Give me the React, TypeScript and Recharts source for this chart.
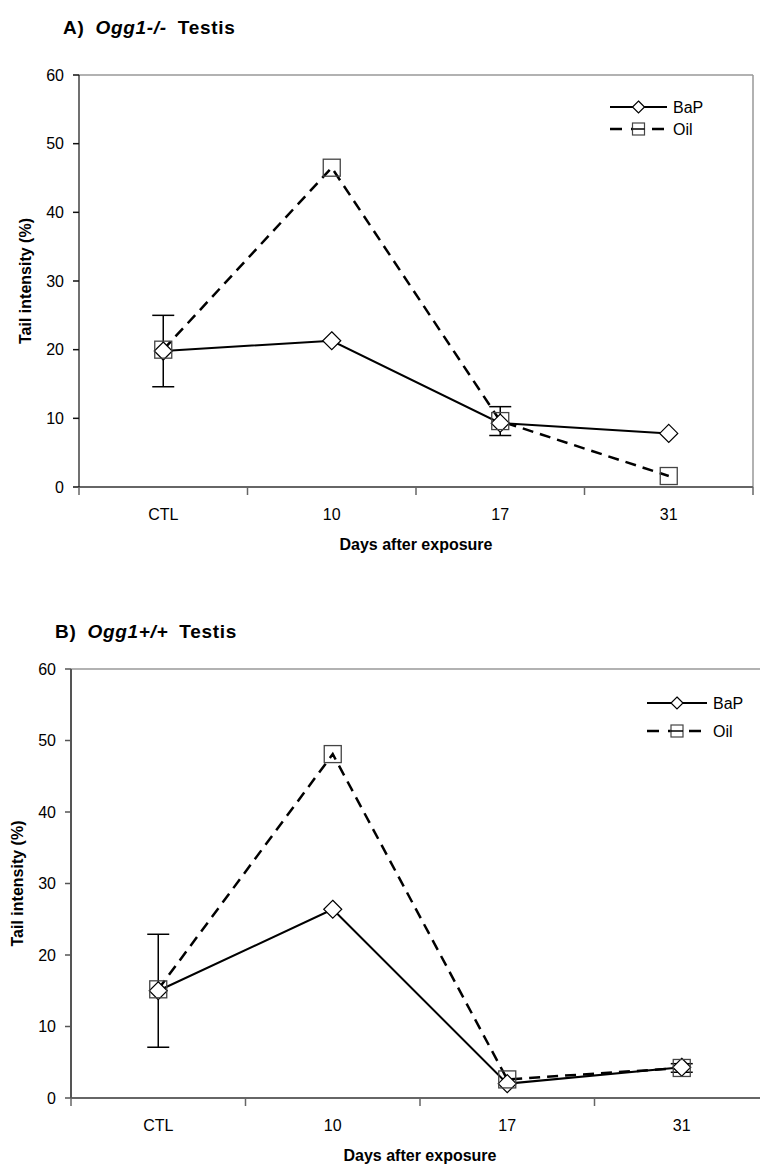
import React from 'react';
import { LineChart, Line, XAxis, YAxis, ErrorBar, ReferenceLine, Legend } from 'recharts';

// Tail intensity (%) by day after exposure
const days = ['CTL', '10', '17', '31'];
const yTicks = [0, 10, 20, 30, 40, 50, 60];

// A) Ogg1-/-
const bapA = [19.8, 21.3, 9.3, 7.8];
const oilA = [20.0, 46.5, 9.6, 1.6];
const bapErrA = [5.2, null, null, null];
const oilErrA = [null, null, 2.1, null];

// B) Ogg1+/+
const bapB = [15.0, 26.4, 2.0, 4.3];
const oilB = [15.2, 48.1, 2.6, 4.2];
const bapErrB = [7.9, null, null, null];
const oilErrB = [null, null, null, 0.6];

const FONT = '"Liberation Sans", Arial, Helvetica, sans-serif';
const xTicks = days.flatMap((_, i) => [i - 0.5, i]).concat(days.length - 0.5);

const buildData = (bap: number[], oil: number[], bapErr: (number | null)[], oilErr: (number | null)[]) =>
  days.map((d, i) => ({ x: i, day: d, bap: bap[i], oil: oil[i], bapErr: bapErr[i], oilErr: oilErr[i] }));

const Diamond = ({ cx, cy, r = 9 }: any) => (
  <path
    d={`M${cx},${cy - r} L${cx + r},${cy} L${cx},${cy + r} L${cx - r},${cy} Z`}
    fill="#fff"
    stroke="#000"
    strokeWidth={1.2}
  />
);

const Square = ({ cx, cy, r = 8.5 }: any) => (
  <rect x={cx - r} y={cy - r} width={r * 2} height={r * 2} fill="none" stroke="#444" strokeWidth={1.3} />
);

const renderXTick = (props: any) => {
  const { x, y, payload } = props;
  const v = payload.value;
  if (Number.isInteger(v)) {
    return (
      <text x={x} y={y + 33} textAnchor="middle" fontSize={16} fill="#000">
        {days[v]}
      </text>
    );
  }
  return <line x1={x} y1={y} x2={x} y2={y + 8} stroke="#666" strokeWidth={1.5} />;
};

const LegendBox = ({ rowGap, lineLen }: { rowGap: number; lineLen: number }) => {
  const mid = 5 + lineLen / 2;
  return (
    <svg width={110} height={rowGap + 30} style={{ display: 'block', fontFamily: FONT }}>
      <line x1={5} y1={12} x2={5 + lineLen} y2={12} stroke="#000" strokeWidth={2} />
      <Diamond cx={mid} cy={12} r={6} />
      <text x={lineLen + 11} y={12} dominantBaseline="central" fontSize={16} fill="#000">BaP</text>
      <line x1={5} y1={12 + rowGap} x2={5 + lineLen} y2={12 + rowGap} stroke="#000" strokeWidth={2.5} strokeDasharray="12 9" />
      <rect x={mid - 6} y={12 + rowGap - 6} width={12} height={12} fill="#fff" stroke="#444" strokeWidth={1.2} />
      <line x1={mid - 6} y1={12 + rowGap} x2={mid + 6} y2={12 + rowGap} stroke="#000" strokeWidth={1.5} />
      <text x={lineLen + 11} y={12 + rowGap} dominantBaseline="central" fontSize={16} fill="#000">Oil</text>
    </svg>
  );
};

type PanelProps = {
  data: any[];
  width: number;
  height: number;
  plotTop: number;
  plotBottom: number;
  plotLeft: number;
  plotRight: number;
  yAxisColor: string;
  yAxisStroke: number;
  yTitleX: number;
  legendLeft: number;
  legendTop: number;
  legendGap: number;
  legendLine: number;
};

const Panel = (p: PanelProps) => {
  const xAxisHeight = 70;
  return (
    <LineChart
      width={p.width}
      height={p.height}
      data={p.data}
      margin={{ top: p.plotTop, right: p.width - p.plotRight, bottom: p.height - p.plotBottom - xAxisHeight, left: 0 }}
    >
      <XAxis
        dataKey="x"
        type="number"
        domain={[-0.5, days.length - 0.5]}
        ticks={xTicks}
        interval={0}
        allowDataOverflow
        height={xAxisHeight}
        tickLine={false}
        tickSize={0}
        tickMargin={0}
        tick={renderXTick}
        axisLine={{ stroke: '#666', strokeWidth: 2 }}
        label={{
          content: ({ viewBox }: any) => (
            <text
              x={viewBox.x + viewBox.width / 2}
              y={viewBox.y + 63}
              textAnchor="middle"
              fontSize={16}
              fontWeight="bold"
              fill="#000"
            >
              Days after exposure
            </text>
          ),
        }}
      />
      <YAxis
        type="number"
        domain={[0, 60]}
        ticks={yTicks}
        interval={0}
        width={p.plotLeft}
        tickSize={6}
        tickMargin={9}
        tick={{ fill: '#000', fontSize: 16 }}
        tickLine={{ stroke: p.yAxisColor, strokeWidth: 1.5 }}
        axisLine={{ stroke: p.yAxisColor, strokeWidth: p.yAxisStroke }}
        label={{
          content: ({ viewBox }: any) => {
            const cy = viewBox.y + viewBox.height / 2;
            return (
              <text
                x={p.yTitleX}
                y={cy}
                transform={`rotate(-90 ${p.yTitleX} ${cy})`}
                textAnchor="middle"
                dominantBaseline="central"
                fontSize={16}
                fontWeight="bold"
                fill="#000"
              >
                Tail intensity (%)
              </text>
            );
          },
        }}
      />
      <ReferenceLine y={60} stroke="#999" strokeWidth={1.5} />
      <ReferenceLine x={days.length - 0.5} stroke="#999" strokeWidth={1.5} />
      <Legend
        layout="vertical"
        align="center"
        verticalAlign="middle"
        wrapperStyle={{ position: 'absolute', left: p.legendLeft, top: p.legendTop, width: 110 }}
        content={() => <LegendBox rowGap={p.legendGap} lineLen={p.legendLine} />}
      />
      <Line
        dataKey="bap"
        name="BaP"
        stroke="#000"
        strokeWidth={2}
        isAnimationActive={false}
        activeDot={false}
        dot={(d: any) => <Diamond key={`b${d.index}`} cx={d.cx} cy={d.cy} />}
      >
        <ErrorBar dataKey="bapErr" direction="y" width={11} stroke="#000" strokeWidth={1.5} isAnimationActive={false} />
      </Line>
      <Line
        dataKey="oil"
        name="Oil"
        stroke="#000"
        strokeWidth={2.5}
        strokeDasharray="11 7"
        isAnimationActive={false}
        activeDot={false}
        dot={(d: any) => <Square key={`o${d.index}`} cx={d.cx} cy={d.cy} />}
      >
        <ErrorBar dataKey="oilErr" direction="y" width={11} stroke="#000" strokeWidth={1.5} isAnimationActive={false} />
      </Line>
    </LineChart>
  );
};

const Title = ({ letter, gene, left, top }: { letter: string; gene: string; left: number; top: number }) => (
  <div
    style={{
      position: 'absolute',
      left,
      top,
      fontFamily: FONT,
      fontWeight: 'bold',
      fontSize: 19,
      letterSpacing: 0.7,
      wordSpacing: 5,
      lineHeight: '22px',
      whiteSpace: 'nowrap',
    }}
  >
    {letter} <i>{gene}</i> Testis
  </div>
);

export default function App() {
  const dataA = buildData(bapA, oilA, bapErrA, oilErrA);
  const dataB = buildData(bapB, oilB, bapErrB, oilErrB);
  return (
    <div
      style={{
        position: 'absolute',
        left: 0,
        top: 0,
        width: 760,
        height: 1167,
        overflow: 'hidden',
        background: '#fff',
        fontFamily: FONT,
      }}
    >
      <Title letter="A)" gene="Ogg1-/-" left={63} top={17} />
      <div style={{ position: 'absolute', left: 0, top: 0 }}>
        <Panel
          data={dataA}
          width={760}
          height={590}
          plotTop={75}
          plotBottom={487}
          plotLeft={79}
          plotRight={753}
          yAxisColor="#111"
          yAxisStroke={1.2}
          yTitleX={25}
          legendLeft={605}
          legendTop={95}
          legendGap={22}
          legendLine={57}
        />
      </div>
      <Title letter="B)" gene="Ogg1+/+" left={55} top={621} />
      <div style={{ position: 'absolute', left: 0, top: 590, width: 760, overflow: 'hidden' }}>
        <Panel
          data={dataB}
          width={772}
          height={577}
          plotTop={79}
          plotBottom={508}
          plotLeft={71}
          plotRight={769}
          yAxisColor="#555"
          yAxisStroke={2}
          yTitleX={17}
          legendLeft={642}
          legendTop={101}
          legendGap={28}
          legendLine={60}
        />
      </div>
    </div>
  );
}
